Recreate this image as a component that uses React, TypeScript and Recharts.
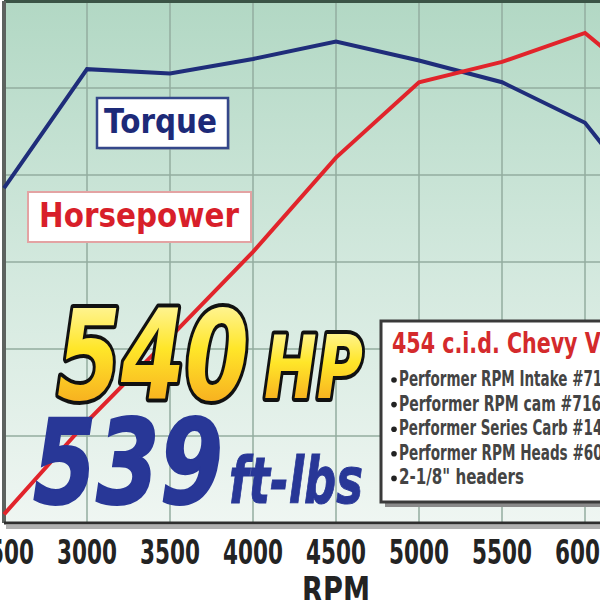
import React from 'react';
import { LineChart, Line, XAxis, YAxis, CartesianGrid, ReferenceLine } from 'recharts';

// dyno readings, every 500 rpm
const rpm = [2500, 3000, 3500, 4000, 4500, 5000, 5500, 6000, 6500];
const torque = [431, 513, 510, 520, 532, 519, 504, 476, 404];
const horsepower = [206, 270, 328, 387, 452, 504, 518, 538, 490];

const rpmTicks = [2500, 3000, 3500, 4000, 4500, 5000, 5500, 6000, 6500];
const valueTicks = [200, 260, 320, 380, 440, 500, 560];

const engineTitle = '454 c.i.d. Chevy V8';
const specLines = [
  { text: 'Performer RPM Intake #7161', width: 222 },
  { text: 'Performer RPM cam #7162', width: 212 },
  { text: 'Performer Series Carb #1411', width: 222 },
  { text: 'Performer RPM Heads #60459', width: 232 },
  { text: '2-1/8" headers', width: 125 },
];

const rows = rpm.map((r, i) => ({ rpm: r, torque: torque[i], hp: horsepower[i] }));

const FONT = '"DejaVu Sans", Verdana, sans-serif';

const RpmTick = ({ x, y, payload }: any) => (
  <text
    x={x}
    y={y + 41}
    textAnchor="middle"
    fontFamily={FONT}
    fontWeight="bold"
    fontSize={34}
    fill="#232323"
    textLength={60}
    lengthAdjust="spacingAndGlyphs"
  >
    {payload.value}
  </text>
);

const RpmTitle = (props: any) => {
  const vb = props.viewBox || { x: 0, y: 0, width: 0 };
  return (
    <text
      x={vb.x + vb.width / 2}
      y={vb.y + 80}
      textAnchor="middle"
      fontFamily={FONT}
      fontWeight="bold"
      fontSize={37}
      fill="#232323"
      textLength={68}
      lengthAdjust="spacingAndGlyphs"
    >
      RPM
    </text>
  );
};

const Overlay = () => (
  <svg
    width={600}
    height={600}
    style={{ position: 'absolute', left: 0, top: 0, pointerEvents: 'none' }}
  >
    <defs>
      <linearGradient id="goldFill" x1="0" y1="0" x2="0" y2="1">
        <stop offset="0" stopColor="#fffbc8" />
        <stop offset="0.45" stopColor="#ffe629" />
        <stop offset="1" stopColor="#f4971b" />
      </linearGradient>
    </defs>

    {/* shadow under the x axis line */}
    <rect x={6} y={524} width={600} height={5} fill="#9c9c9c" opacity={0.8} />

    {/* series tags */}
    <rect x={99} y={100} width={131} height={50} fill="#9aa6a0" opacity={0.6} />
    <rect x={97} y={98} width={131} height={50} fill="#fff" stroke="#34478a" strokeWidth={2.5} />
    <text x={104} y={133} fontFamily={FONT} fontWeight="bold" fontSize={33} fill="#1d2a78"
      textLength={113} lengthAdjust="spacingAndGlyphs">Torque</text>

    <rect x={28} y={192} width={223} height={50} fill="#fff" stroke="#e3a3a3" strokeWidth={2} />
    <text x={39} y={227} fontFamily={FONT} fontWeight="bold" fontSize={34} fill="#d81f2a"
      textLength={200} lengthAdjust="spacingAndGlyphs">Horsepower</text>

    {/* headline numbers */}
    <text x={57} y={399} fontFamily={FONT} fontWeight="bold" fontStyle="italic" fontSize={124}
      fill="url(#goldFill)" stroke="#111" strokeWidth={8} strokeLinejoin="round"
      paintOrder="stroke" textLength={192} lengthAdjust="spacingAndGlyphs">540</text>
    <text x={264} y={398} fontFamily={FONT} fontWeight="bold" fontStyle="italic" fontSize={88}
      fill="url(#goldFill)" stroke="#111" strokeWidth={8} strokeLinejoin="round"
      paintOrder="stroke" textLength={99} lengthAdjust="spacingAndGlyphs">HP</text>
    <text x={33} y={503} fontFamily={FONT} fontWeight="bold" fontStyle="italic" fontSize={118}
      fill="#283797" stroke="#283797" strokeWidth={2} textLength={190}
      lengthAdjust="spacingAndGlyphs">539</text>
    <text x={229} y={503} fontFamily={FONT} fontWeight="bold" fontStyle="italic" fontSize={64}
      fill="#283797" stroke="#283797" strokeWidth={1} textLength={134}
      lengthAdjust="spacingAndGlyphs">ft-lbs</text>

    {/* combo box */}
    <rect x={385} y={326} width={260} height={181} fill="#8a8a8a" />
    <rect x={381} y={321} width={260} height={181} fill="#fff" stroke="#3a3a3a" strokeWidth={3} />
    <text x={392} y={353} fontFamily={FONT} fontWeight="bold" fontSize={28} fill="#d42a2c"
      textLength={223} lengthAdjust="spacingAndGlyphs">{engineTitle}</text>
    {specLines.map((s, i) => (
      <g key={s.text}>
        <circle cx={394} cy={380 + i * 24.6} r={2.8} fill="#222" />
        <text x={399} y={386 + i * 24.6} fontFamily={FONT} fontWeight="bold" fontSize={21}
          fill="#444" textLength={s.width} lengthAdjust="spacingAndGlyphs">{s.text}</text>
      </g>
    ))}
  </svg>
);

export default function App() {
  return (
    <div
      style={{
        position: 'fixed',
        left: 0,
        top: 0,
        width: 600,
        height: 600,
        overflow: 'hidden',
        background: '#fff',
      }}
    >
      <LineChart width={668} height={600} data={rows} margin={{ top: 1, right: 0, left: 4, bottom: 0 }}>
        <defs>
          <linearGradient id="plotBg" x1="0" y1="0" x2="0" y2="1">
            <stop offset="0" stopColor="#b2d8c4" />
            <stop offset="0.5" stopColor="#d2e8dd" />
            <stop offset="1" stopColor="#eff6f2" />
          </linearGradient>
        </defs>
        <CartesianGrid stroke="#93ad9f" strokeWidth={1.5} fill="url(#plotBg)" fillOpacity={1} />
        <XAxis
          dataKey="rpm"
          type="number"
          domain={[2500, 6500]}
          ticks={rpmTicks}
          height={77}
          axisLine={{ stroke: '#2e2e2e', strokeWidth: 3 }}
          tickLine={false}
          tickSize={0}
          tickMargin={0}
          tick={<RpmTick />}
          interval={0}
          label={RpmTitle}
        />
        <YAxis hide type="number" domain={[200, 560]} ticks={valueTicks} />
        <ReferenceLine y={560} stroke="#3b5446" strokeWidth={4} />
        <ReferenceLine x={2500} stroke="#5d625f" strokeWidth={4} />
        <Line
          type="linear"
          dataKey="torque"
          name="Torque"
          stroke="#1f2d7a"
          strokeWidth={4}
          dot={false}
          isAnimationActive={false}
        />
        <Line
          type="linear"
          dataKey="hp"
          name="Horsepower"
          stroke="#e1242b"
          strokeWidth={4}
          dot={false}
          isAnimationActive={false}
        />
      </LineChart>
      <Overlay />
    </div>
  );
}
